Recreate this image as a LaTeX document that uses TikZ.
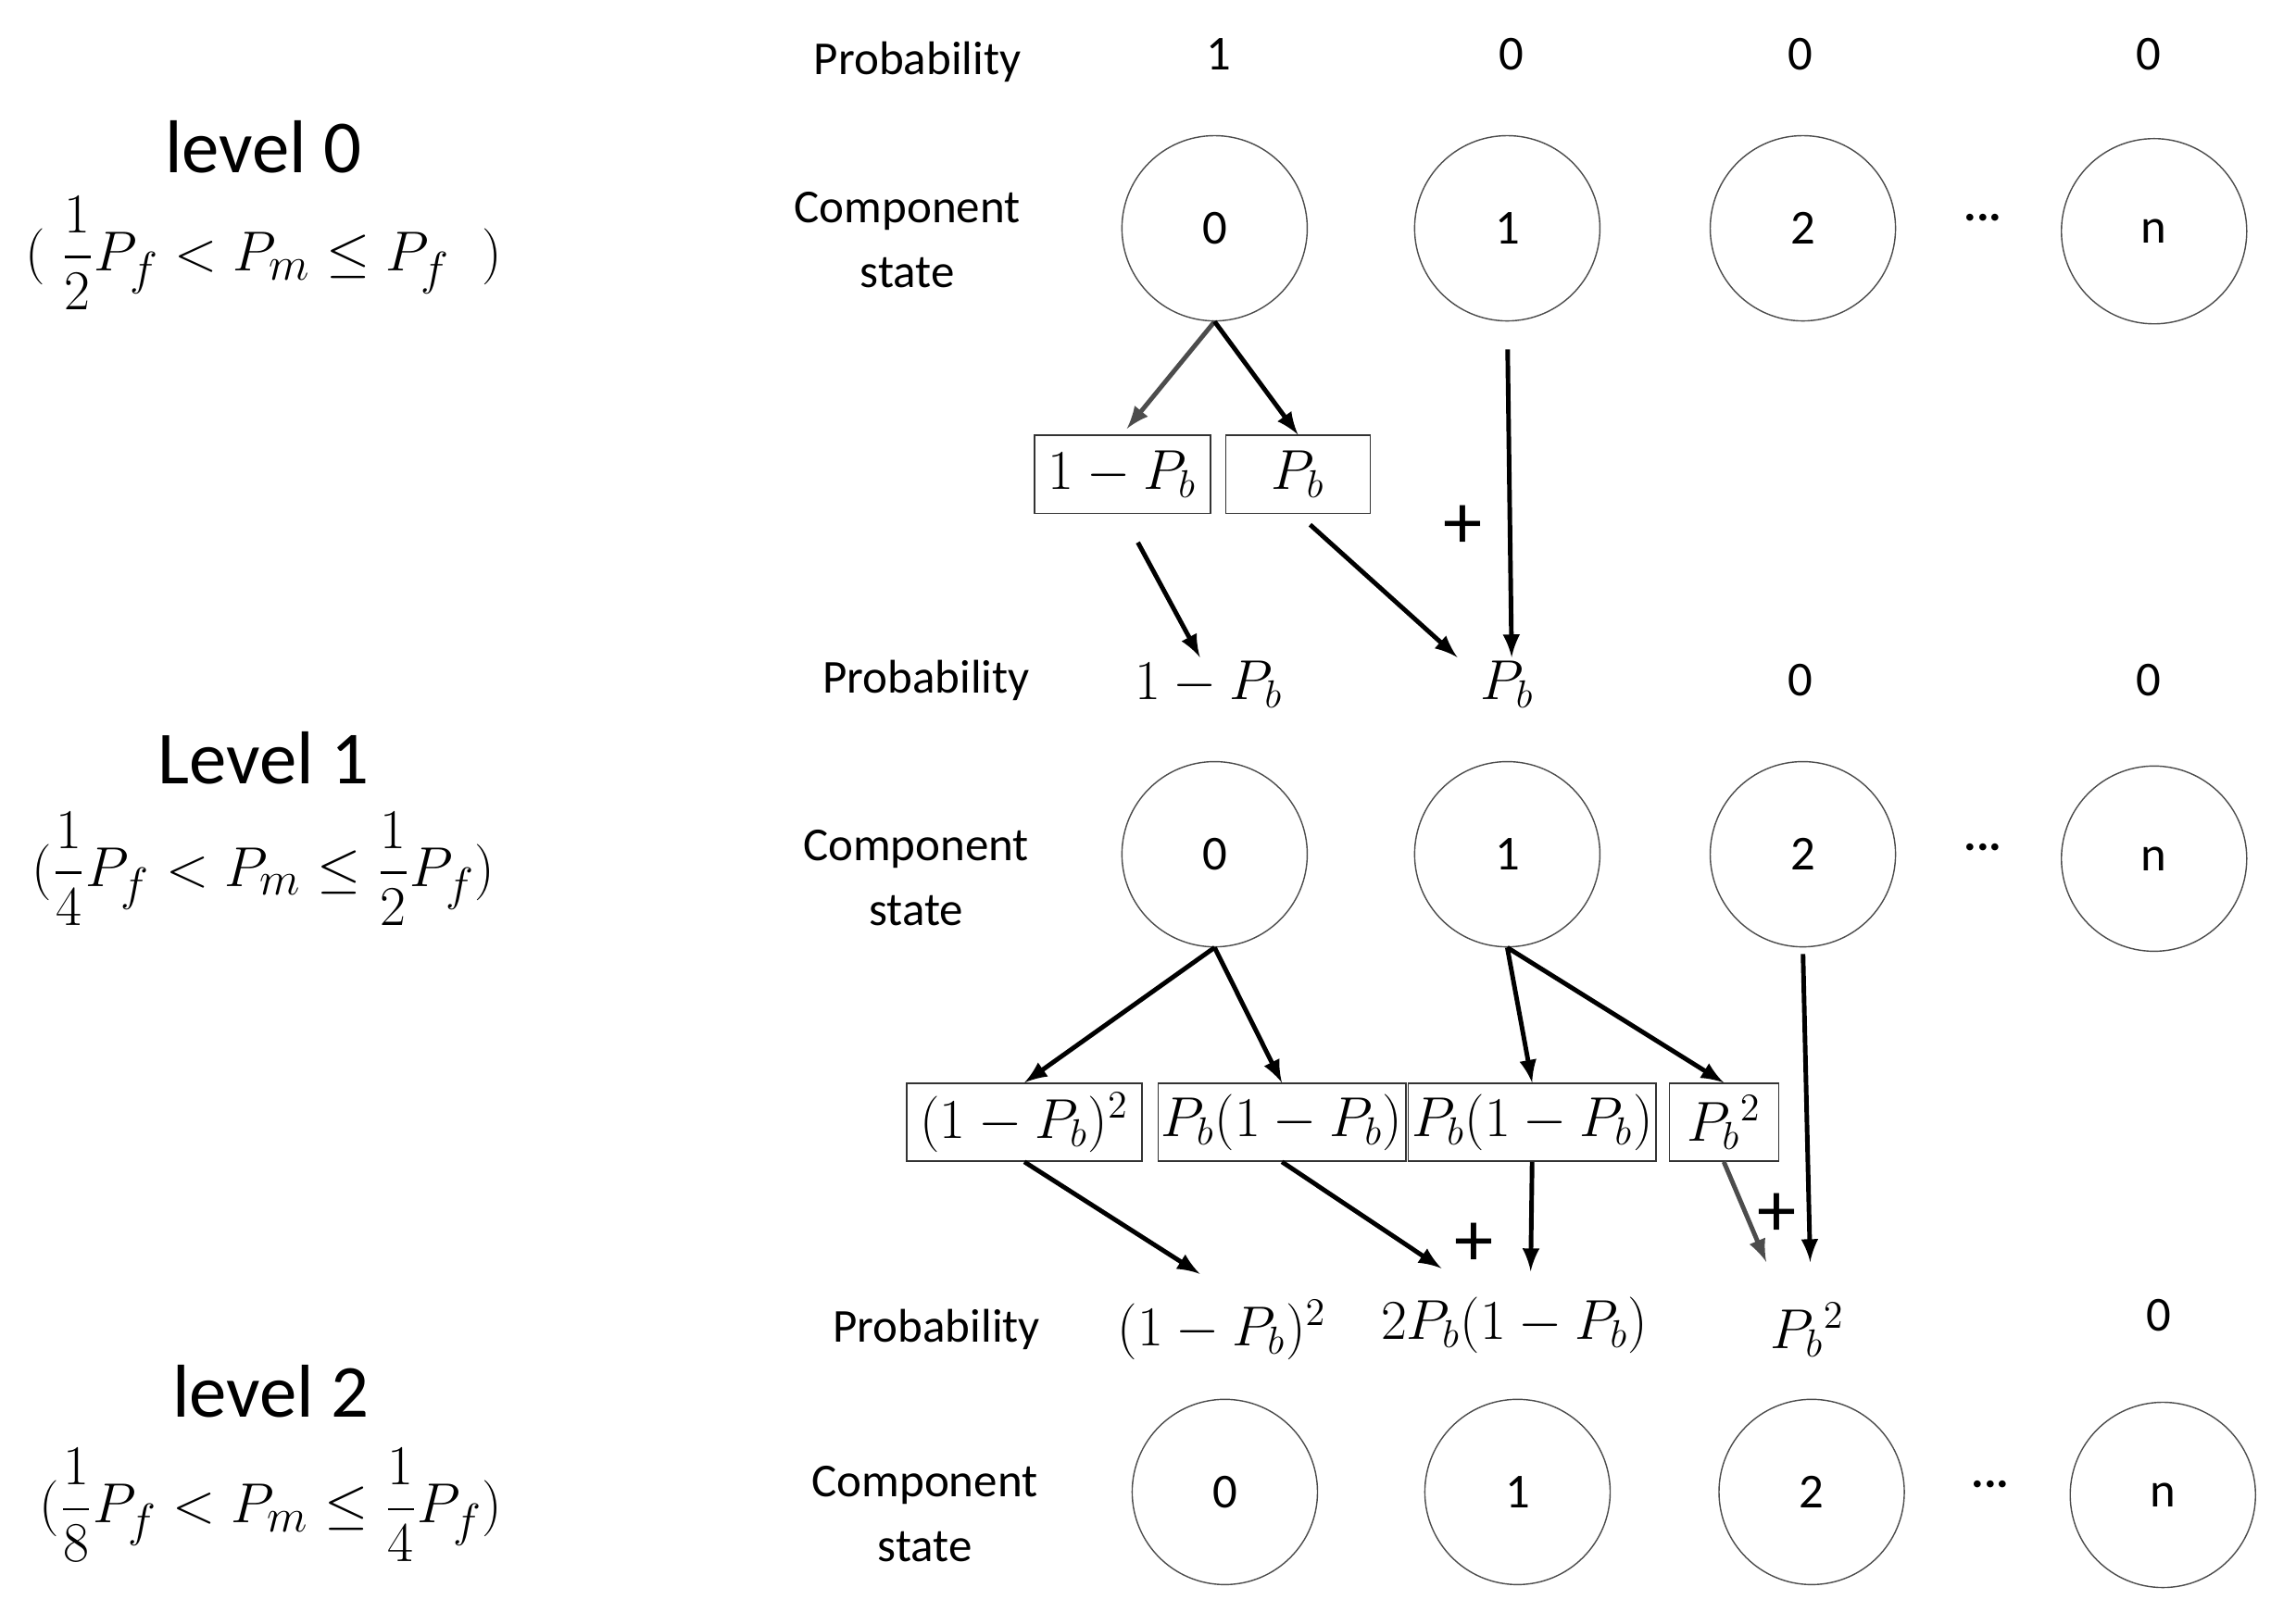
\documentclass[tikz,border=0pt]{standalone}
\usepackage{amsmath}
\usepackage[no-math]{fontspec}
\setmainfont{Carlito}
\usetikzlibrary{positioning,calc}

\tikzset{
  state/.style={circle,draw=black!70,thin,minimum size=2cm,font=\fontsize{15}{18}\selectfont},
  lbl/.style={font=\fontsize{14.5}{20}\selectfont,align=center},
  val/.style={font=\fontsize{17}{20}\selectfont},
  lvl/.style={font=\fontsize{23}{26}\selectfont},
  frm/.style={font=\fontsize{19}{22}\selectfont},
  box/.style={draw=black!80,thin,minimum height=0.84cm,inner sep=1pt,font=\fontsize{17}{20}\selectfont},
  arr/.style={-latex,line width=1.4pt},
  garr/.style={arr,draw=black!70},
  plus/.style={font=\fontsize{24}{24}\selectfont}
}

\begin{document}
\begin{tikzpicture}[x=0.0158cm,y=-0.0159cm]
  \useasboundingbox (0,0) rectangle (1569,1094);

  % Level labels
  \node[lvl] (l0) at (180,100) {level 0};
  \node[frm] (f0) at (180,172) {$(\;\dfrac{1}{2}P_f<P_m\le P_f\;\;)$};
  \node[lvl] (l1) at (180,515) {Level 1};
  \node[frm] (f1) at (180,590) {$(\dfrac{1}{4}P_f<P_m\le\dfrac{1}{2}P_f)$};
  \node[lvl] (l2) at (185,945) {level 2};
  \node[frm] (f2) at (185,1022) {$(\dfrac{1}{8}P_f<P_m\le\dfrac{1}{4}P_f)$};

  % Level 0
  \node[lbl] (pr0) at (627,42) {Probability};
  \node[lbl] (cs0) at (620,163) {Component\\state};
  \node[val,font=\fontsize{15}{18}\selectfont] (p0a) at (833,37) {1};
  \node[val,font=\fontsize{15}{18}\selectfont] (p0b) at (1033,37) {0};
  \node[val,font=\fontsize{15}{18}\selectfont] (p0c) at (1230,37) {0};
  \node[val,font=\fontsize{15}{18}\selectfont] (p0d) at (1468,37) {0};
  \node[state] (c00) at (830,155) {0};
  \node[state] (c01) at (1030,155) {1};
  \node[state] (c02) at (1232,155) {2};
  \node[state] (c0n) at (1472,157) {n};
  \node[lbl] (d0) at (1355,148) {\textbf{...}};

  \node[box,minimum width=1.9cm] (b0a) at (767,322) {$1-P_b$};
  \node[box,minimum width=1.56cm] (b0b) at (887,322) {$P_b$};
  \node[plus] (s0) at (1000,358) {+};

  % Level 1
  \node[lbl] (pr1) at (633,462) {Probability};
  \node[lbl] (cs1) at (626,596) {Component\\state};
  \node[val] (p1a) at (826,465) {$1-P_b$};
  \node[val] (p1b) at (1030,465) {$P_b$};
  \node[val,font=\fontsize{15}{18}\selectfont] (p1c) at (1230,462) {0};
  \node[val,font=\fontsize{15}{18}\selectfont] (p1d) at (1468,462) {0};
  \node[state] (c10) at (830,580) {0};
  \node[state] (c11) at (1030,580) {1};
  \node[state] (c12) at (1232,580) {2};
  \node[state] (c1n) at (1472,583) {n};
  \node[lbl] (d1) at (1355,575) {\textbf{...}};

  \node[box,minimum width=2.54cm] (b1a) at (700,762) {$(1-P_b)^2$};
  \node[box,minimum width=2.54cm] (b1b) at (876,762) {$P_b(1-P_b)$};
  \node[box,minimum width=2.54cm] (b1c) at (1047,762) {$P_b(1-P_b)$};
  \node[box,minimum width=1.18cm] (b1d) at (1178,762) {$P_b{}^2$};
  \node[plus] (s1) at (1007,845) {+};
  \node[plus] (s2) at (1214,825) {+};

  % Level 2
  \node[lbl] (pr2) at (640,903) {Probability};
  \node[lbl] (cs2) at (632,1028) {Component\\state};
  \node[val] (p2a) at (835,903) {$(1-P_b)^2$};
  \node[val] (p2b) at (1035,900) {$2P_b(1-P_b)$};
  \node[val] (p2c) at (1235,903) {$P_b{}^2$};
  \node[val,font=\fontsize{15}{18}\selectfont] (p2d) at (1475,893) {0};
  \node[state] (c20) at (837,1013) {0};
  \node[state] (c21) at (1037,1013) {1};
  \node[state] (c22) at (1238,1013) {2};
  \node[state] (c2n) at (1478,1015) {n};
  \node[lbl] (d2) at (1360,1008) {\textbf{...}};

  % Arrows level 0 -> 1
  \draw[garr] (c00.south) -- ($(b0a.north)+(3,-4)$);
  \draw[arr] (c00.south) -- (b0b.north);
  \draw[arr,shorten <=0.3cm] (c01.south) -- ($(p1b.north)+(3,5)$);
  \draw[arr,shorten <=10pt] (b0a.south) -- ($(p1a.north)+(-6,5)$);
  \draw[arr,shorten <=5pt] (b0b.south) -- ($(p1b.north west)+(-8,5)$);

  % Arrows level 1 -> 2
  \draw[arr] (c10.south) -- (b1a.north);
  \draw[arr] (c10.south) -- (b1b.north);
  \draw[arr] (c11.south) -- (b1c.north);
  \draw[arr] (c11.south) -- (b1d.north);
  \draw[arr,shorten <=2pt] (c12.south) -- ($(p2c.north)+(2,-20)$);
  \draw[arr] (b1a.south) -- ($(p2a.north)+(-15,-10)$);
  \draw[arr] (b1b.south) -- ($(p2b.north)+(-50,-12)$);
  \draw[arr] (b1c.south) -- ($(p2b.north)+(11,-10)$);
  \draw[garr] (b1d.south) -- ($(p2c.north)+(-28,-20)$);
\end{tikzpicture}
\end{document}
